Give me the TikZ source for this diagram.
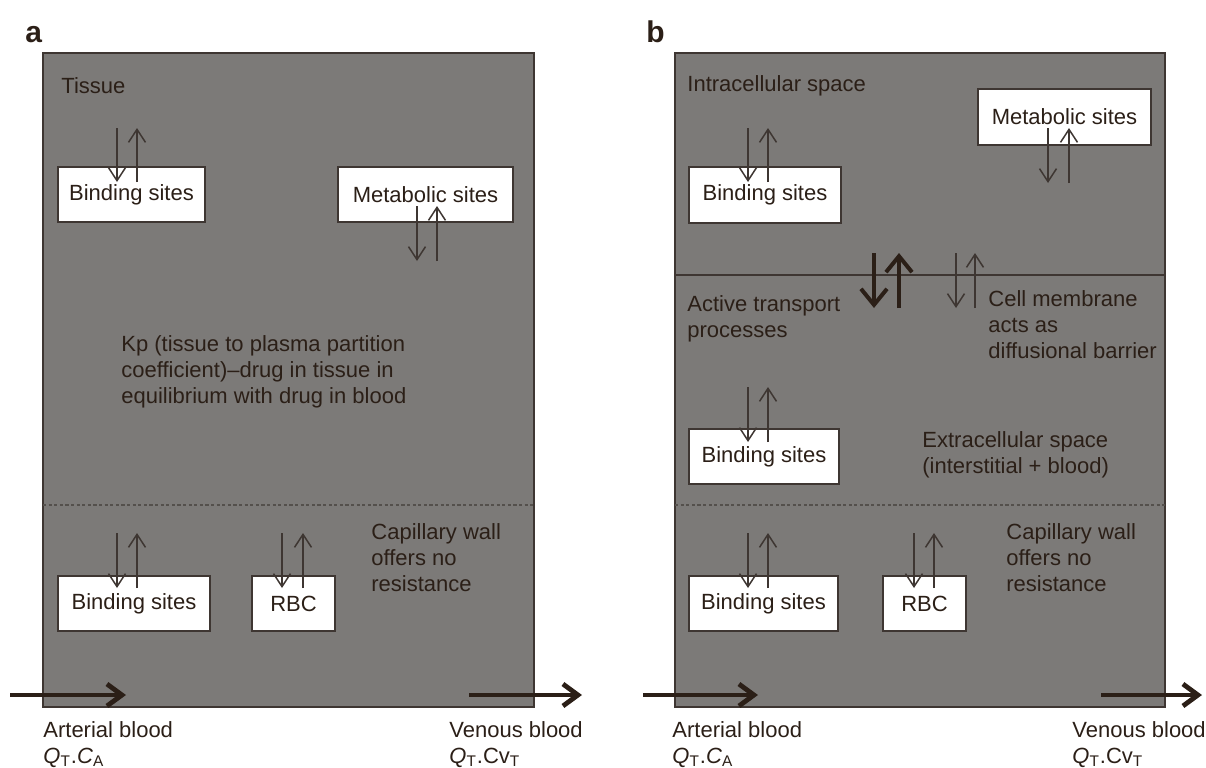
\documentclass[tikz,border=0pt]{standalone}
\usepackage{fontspec}
\setmainfont{Liberation Sans}
\usetikzlibrary{arrows.meta}
\definecolor{bg}{RGB}{124,122,120}
\definecolor{ink}{RGB}{43,31,23}
\definecolor{edge}{RGB}{62,54,50}
\definecolor{dashc}{RGB}{84,80,76}
\newcommand\txtfont{\fontsize{11}{13}\selectfont}
\newcommand\updown[5]{%
  \coordinate (#1dt) at (#2,#4); \coordinate (#1db) at (#2,#5);
  \coordinate (#1ut) at (#3,#4); \coordinate (#1ub) at (#3,#5);
  \draw[thinarr] (#1dt) -- (#1db);
  \draw[thinarr] (#1ub) -- (#1ut);}
\begin{document}
\begin{tikzpicture}[x=0.5pt,y=-0.5pt,
  panel/.style={fill=bg, draw=edge, line width=1.2pt},
  box/.style={draw=edge, fill=white, line width=1pt, inner sep=0pt, text=ink, font=\txtfont, anchor=north west},
  lbl/.style={text=ink, inner sep=0pt, align=left, font=\txtfont},
  plbl/.style={text=ink, inner sep=0pt, font=\fontsize{15}{17}\selectfont\bfseries, anchor=base west},
  thinarr/.style={draw=edge, line width=0.75pt, -{Straight Barb[length=6.5pt,width=8.5pt]}},
  boldarr/.style={draw=ink, line width=2pt, -{Straight Barb[length=8pt,width=13pt]}},
  flow/.style={draw=ink, line width=2.4pt, -{Straight Barb[length=7.5pt,width=11pt]}},
  sep/.style={draw=dashc, line width=0.8pt, dash pattern=on 1.6pt off 1.2pt},
  memb/.style={draw=edge, line width=1.1pt}]
\useasboundingbox (0,0) rectangle (1206,767);

% ---------- panel a ----------
\node[plbl] (la) at (25,42) {a};
\draw[panel] (43,53) rectangle (534,707);
\draw[sep] (43,505) -- (534,505);
\node[lbl, anchor=base west] (tissue) at (61,93) {Tissue};
\node[box, minimum width=73.5pt, minimum height=27.5pt] (bsA1) at (57,166) {Binding sites};
\node[box, minimum width=87.5pt, minimum height=27.5pt] (msA) at (337,166) {Metabolic sites};
\node[box, minimum width=76pt, minimum height=27.5pt] (bsA2) at (57,575) {Binding sites};
\node[box, minimum width=41.5pt, minimum height=27.5pt] (rbcA) at (251,575) {RBC};
\updown{a1}{117}{137}{128}{182}
\updown{a2}{417}{437}{206}{261}
\updown{a3}{117}{137}{533}{588}
\updown{a4}{282}{303}{533}{588}
\node[lbl, anchor=north west] (kp) at (121,335) {Kp (tissue to plasma partition\\coefficient)--drug in tissue in\\equilibrium with drug in blood};
\node[lbl, anchor=north west] (capA) at (371,523) {Capillary wall\\offers no\\resistance};
\coordinate (fa1s) at (10,695); \coordinate (fa1e) at (126,695);
\coordinate (fa2s) at (469,695); \coordinate (fa2e) at (582,695);
\draw[flow] (fa1s) -- (fa1e);
\draw[flow] (fa2s) -- (fa2e);
\node[lbl, anchor=base west] (artA) at (43,737) {Arterial blood};
\node[lbl, anchor=base west] (qaA) at (43,763) {\textit{Q}\textsubscript{T}.\textit{C}\textsubscript{A}};
\node[lbl, anchor=base west] (venA) at (449,737) {Venous blood};
\node[lbl, anchor=base west] (qvA) at (449,763) {\textit{Q}\textsubscript{T}.Cv\textsubscript{T}};

% ---------- panel b ----------
\node[plbl] (lb) at (646,42) {b};
\draw[panel] (675,53) rectangle (1165,707);
\draw[memb] (675,275) -- (1165,275);
\draw[sep] (675,505) -- (1165,505);
\node[lbl, anchor=base west] (intra) at (687,91) {Intracellular space};
\node[box, minimum width=86.5pt, minimum height=28pt] (msB) at (977,88) {Metabolic sites};
\node[box, minimum width=76pt, minimum height=28pt] (bsB1) at (688,166) {Binding sites};
\node[box, minimum width=75pt, minimum height=27.5pt] (bsB2) at (688,428) {Binding sites};
\node[box, minimum width=74.5pt, minimum height=27.5pt] (bsB3) at (688,575) {Binding sites};
\node[box, minimum width=41.5pt, minimum height=27.5pt] (rbcB) at (882,575) {RBC};
\updown{b1}{748}{768}{128}{182}
\updown{b2}{1048}{1069}{128}{183}
\updown{b3}{956}{975}{253}{308}
\updown{b4}{748}{768}{387}{442}
\updown{b5}{748}{768}{533}{588}
\updown{b6}{914}{934}{533}{588}
\coordinate (ma1) at (874,253); \coordinate (ma2) at (874,308);
\coordinate (mb1) at (899,308); \coordinate (mb2) at (899,253);
\draw[boldarr] (ma1) -- (ma2);
\draw[boldarr] (mb1) -- (mb2);
\node[lbl, anchor=north west] (active) at (687,295) {Active transport\\processes};
\node[lbl, anchor=north west] (cellm) at (988,290) {Cell membrane\\acts as\\diffusional barrier};
\node[lbl, anchor=north west] (extra) at (922,431) {Extracellular space\\(interstitial + blood)};
\node[lbl, anchor=north west] (capB) at (1006,523) {Capillary wall\\offers no\\resistance};
\coordinate (fb1s) at (643,695); \coordinate (fb1e) at (758,695);
\coordinate (fb2s) at (1101,695); \coordinate (fb2e) at (1202,695);
\draw[flow] (fb1s) -- (fb1e);
\draw[flow] (fb2s) -- (fb2e);
\node[lbl, anchor=base west] (artB) at (672,737) {Arterial blood};
\node[lbl, anchor=base west] (qaB) at (672,763) {\textit{Q}\textsubscript{T}.\textit{C}\textsubscript{A}};
\node[lbl, anchor=base west] (venB) at (1072,737) {Venous blood};
\node[lbl, anchor=base west] (qvB) at (1072,763) {\textit{Q}\textsubscript{T}.Cv\textsubscript{T}};
\end{tikzpicture}
\end{document}
